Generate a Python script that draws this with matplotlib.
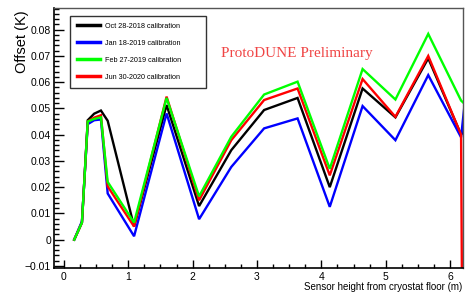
import matplotlib
matplotlib.use("Agg")
import matplotlib.pyplot as plt
from matplotlib.ticker import MultipleLocator, FuncFormatter

# Sensor heights (m)
heights = [0.16, 0.28, 0.37, 0.47, 0.575, 0.68, 1.09, 1.595, 2.10, 2.60,
           3.11, 3.63, 4.13, 4.64, 5.15, 5.66, 6.17, 6.30]

labels = ["Oct 28-2018 calibration", "Jan 18-2019 calibration",
          "Feb 27-2019 calibration", "Jun 30-2020 calibration"]

oct2018 = [0.0, 0.0065, 0.0455, 0.048, 0.0492, 0.0453, 0.005, 0.0513, 0.0128, 0.0341,
           0.0494, 0.054, 0.020, 0.0576, 0.0466, 0.0691, 0.040, 0.044]
jan2019 = [0.0, 0.007, 0.044, 0.0455, 0.0458, 0.0176, 0.0013, 0.0481, 0.0078, 0.0277,
           0.0424, 0.0462, 0.0125, 0.0509, 0.0379, 0.0627, 0.039, 0.069]
feb2019 = [0.0, 0.0065, 0.045, 0.046, 0.0466, 0.022, 0.0065, 0.054, 0.0165, 0.0392,
           0.0553, 0.0602, 0.027, 0.065, 0.0534, 0.0784, 0.053, 0.050]
jun2020 = [0.0, 0.0065, 0.045, 0.0465, 0.0474, 0.0203, 0.005, 0.0545, 0.015, 0.0379,
           0.0532, 0.0576, 0.0245, 0.0612, 0.0468, 0.070, 0.040, -0.5]

colors = ["#000000", "#0000ff", "#00ff00", "#ff0000"]

plt.rcParams['font.family'] = ['Liberation Sans', 'DejaVu Sans']

fig = plt.figure(figsize=(4.65, 2.93), dpi=100)
ax = fig.add_axes([0.116, 0.0853, 0.8797, 0.8877])

series = [oct2018, jan2019, feb2019, jun2020]
handles = []
for vals, c, lab in zip(series, colors, labels):
    h, = ax.plot(heights, vals, color=c, lw=1.7, label=lab, solid_joinstyle='miter')
    handles.append(h)
# draw order: green over red
handles[2].set_zorder(3)
handles[3].set_zorder(2.5)

ax.set_xlim(-0.155, 6.2)
ax.set_ylim(-0.0108, 0.0883)

ax.xaxis.set_major_locator(MultipleLocator(1))
ax.xaxis.set_minor_locator(MultipleLocator(0.25))
ax.yaxis.set_major_locator(MultipleLocator(0.01))
ax.yaxis.set_minor_locator(MultipleLocator(0.002))
ax.yaxis.set_major_formatter(FuncFormatter(lambda v, p: "0" if abs(v) < 1e-9 else ("\u2212%.2f" % -v if v < 0 else "%.2f" % v)))

ax.tick_params(axis='y', which='major', direction='in', length=7, width=1, labelsize=7.5, pad=2, right=False)
ax.tick_params(axis='y', which='minor', direction='in', length=3.6, width=1, right=False)
ax.tick_params(axis='x', which='major', direction='in', length=5.5, width=1, labelsize=7.5, pad=3, top=False)
ax.tick_params(axis='x', which='minor', direction='in', length=2.7, width=1, top=False)

for s in ['left', 'bottom']:
    ax.spines[s].set_linewidth(1.2)
    ax.spines[s].set_color('black')
for s in ['top', 'right']:
    ax.spines[s].set_linewidth(1.0)
    ax.spines[s].set_color('#555555')

fig.text(0.047, 0.965, "Offset (K)", rotation=90, fontsize=10.5, ha='center', va='top')
fig.text(0.995, 0.005, "Sensor height from cryostat floor (m)", fontsize=7, ha='right', va='bottom')

ax.text(0.409, 0.812, "ProtoDUNE Preliminary", transform=ax.transAxes,
        family=['Liberation Serif', 'DejaVu Serif'], fontsize=11, color='#f04545',
        ha='left', va='baseline')

leg = ax.legend(handles=handles, loc='upper left', bbox_to_anchor=(0.039, 0.969, 0.333, 0.0),
                mode='expand', fontsize=5.2, frameon=True, fancybox=False,
                edgecolor='#333333', framealpha=1, borderpad=0.95, labelspacing=1.38,
                handlelength=3.2, handletextpad=0.7, borderaxespad=0)
leg.get_frame().set_linewidth(1.0)
for l in leg.get_lines():
    l.set_linewidth(2.5)

fig.savefig("out.png", dpi=100)
